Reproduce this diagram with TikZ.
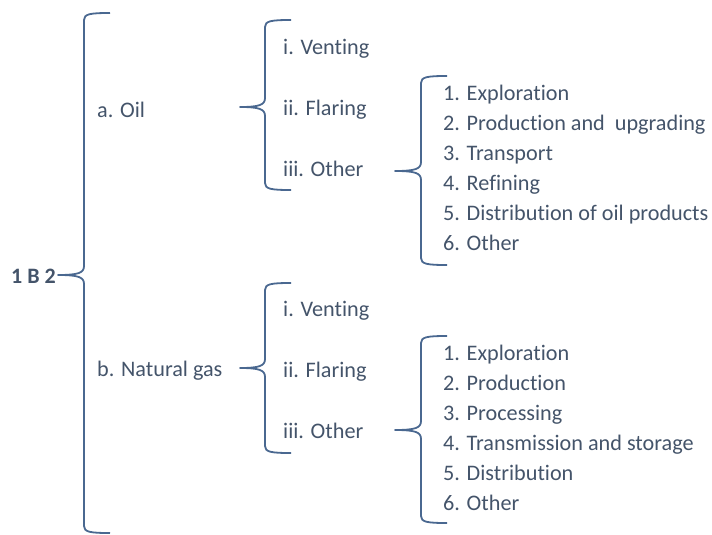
\documentclass[tikz,border=0pt]{standalone}
\usepackage{fontspec}
\setmainfont[Ligatures=NoCommon]{Carlito}
\definecolor{txt}{HTML}{44546A}
\definecolor{brc}{HTML}{4A6890}
\begin{document}
\begin{tikzpicture}[x=1pt,y=-1pt,
  lbl/.style={anchor=base west,inner sep=0pt,text=txt,font=\fontsize{22.2}{24}\selectfont,yshift=-7.5pt},
  brace/.style={draw=brc,line width=1.8pt,line join=round}]
\useasboundingbox (0,0) rectangle (712,535);
\newcommand{\mybrace}[5]{% x, top, tip, bottom, tipx
  \draw[brace] (#1+26,#2) .. controls (#1+6,#2) and (#1,#2+1) .. (#1,#2+7)
    -- (#1,#3-9) .. controls (#1,#3-2) and (#1-6,#3) .. (#5,#3)
    .. controls (#1-6,#3) and (#1,#3+2) .. (#1,#3+9)
    -- (#1,#4-7) .. controls (#1,#4-1) and (#1+6,#4) .. (#1+26,#4);}
\node[lbl,font=\fontsize{22}{24}\selectfont\bfseries] (root) at (11,276) {1 B 2};
\mybrace{84}{13}{275}{533}{58}
\node[lbl] (oil) at (97,110) {a. Oil};
\node[lbl] (gas) at (97,369) {b. Natural gas};
% oil
\mybrace{265}{20}{107}{190}{240}
\node[lbl] (ov) at (283,47) {i. Venting};
\node[lbl] (of) at (283,108) {ii. Flaring};
\node[lbl] (oo) at (283,169) {iii. Other};
\mybrace{421}{76}{171}{265}{395}
\node[lbl] (o1) at (443,93) {1. Exploration};
\node[lbl] (o2) at (443,123) {2. Production and\ \ upgrading};
\node[lbl] (o3) at (443,153) {3. Transport};
\node[lbl] (o4) at (443,183) {4. Refining};
\node[lbl] (o5) at (443,213) {5. Distribution of oil products};
\node[lbl] (o6) at (443,243) {6. Other};
% gas
\mybrace{265}{283}{368}{453}{240}
\node[lbl] (gv) at (283,309) {i. Venting};
\node[lbl] (gf) at (283,370) {ii. Flaring};
\node[lbl] (go) at (283,431) {iii. Other};
\mybrace{421}{336}{430}{523}{395}
\node[lbl] (g1) at (443,353) {1. Exploration};
\node[lbl] (g2) at (443,383) {2. Production};
\node[lbl] (g3) at (443,413) {3. Processing};
\node[lbl] (g4) at (443,443) {4. Transmission and storage};
\node[lbl] (g5) at (443,473) {5. Distribution};
\node[lbl] (g6) at (443,503) {6. Other};
\end{tikzpicture}
\end{document}
